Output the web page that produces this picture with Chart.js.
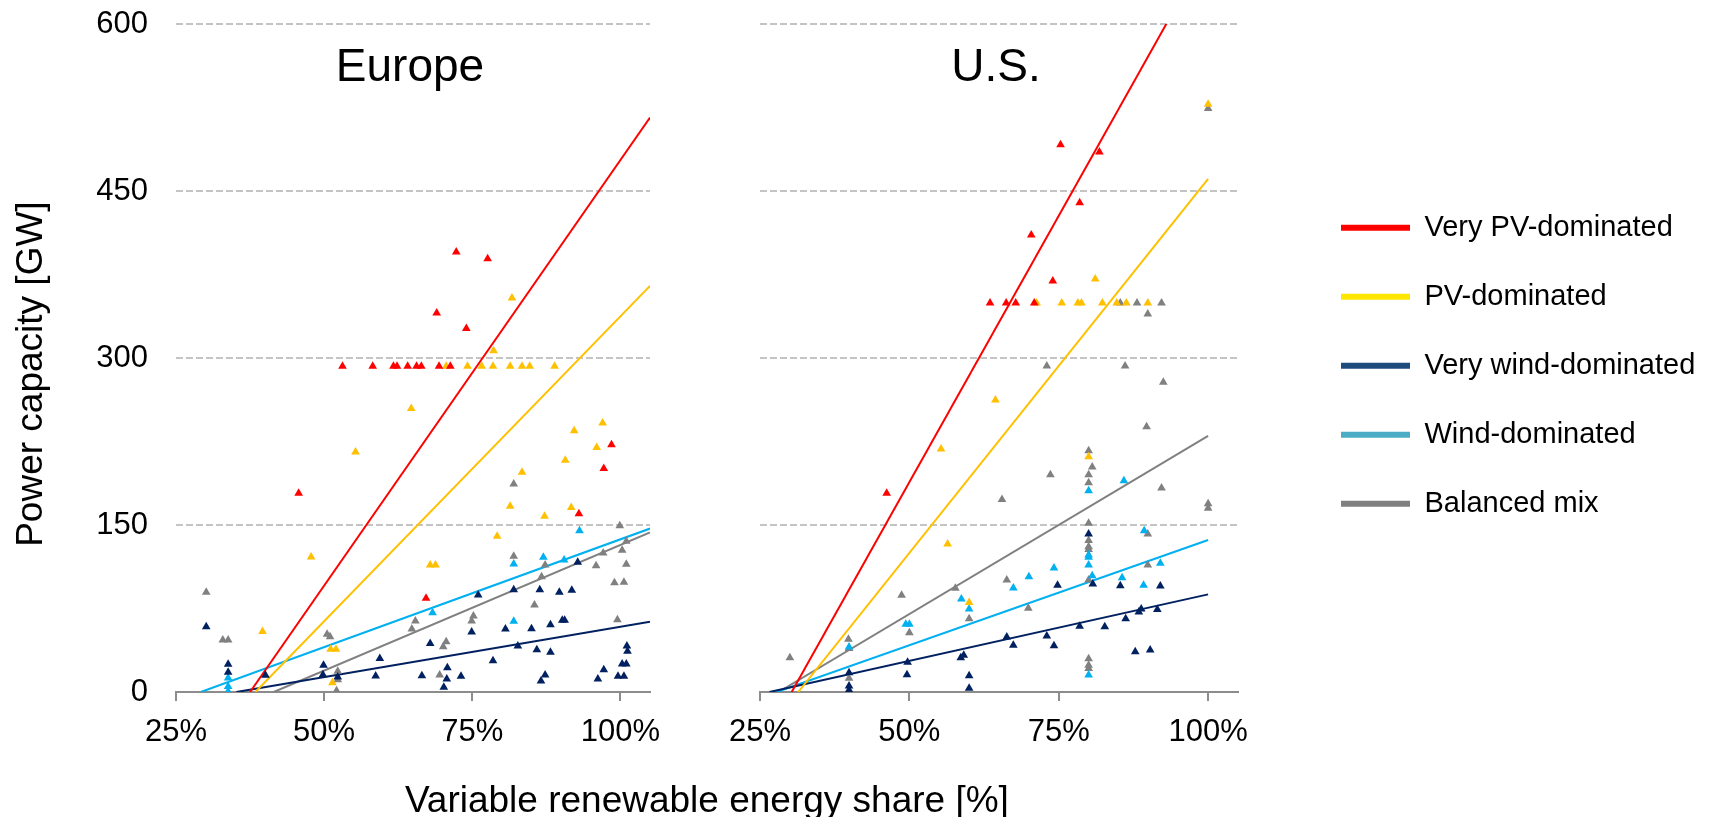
<!DOCTYPE html>
<html>
<head>
<meta charset="utf-8">
<script src="https://cdn.jsdelivr.net/npm/chart.js@4.4.1/dist/chart.umd.min.js"></script>
<style>
  html, body { margin: 0; padding: 0; background: #ffffff; }
  #wrap { position: relative; width: 1722px; height: 817px; overflow: hidden; }
  canvas { position: absolute; left: 0; top: 0; }
</style>
</head>
<body>
<div id="wrap">
  <canvas id="cTitles" width="1722" height="817"></canvas>
  <canvas id="cEurope" width="700" height="817"></canvas>
  <canvas id="cUS" width="1722" height="817"></canvas>
</div>
<script>
// ---------------- DATA (x = variable renewable share [%], y = power capacity [GW]) ----------------
const categories = ['Very PV-dominated', 'PV-dominated', 'Very wind-dominated', 'Wind-dominated', 'Balanced mix'];
const xTickValues = [25, 50, 75, 100];
const yTickValues = [0, 150, 300, 450, 600];

// Europe scenarios
const euVeryPV = [[45.7,178.5],[53.1,292.5],[58.2,292.5],[61.7,292.5],[62.3,292.5],[64.1,292.5],[65.6,292.5],[66.4,292.5],[69.4,292.5],[71.3,292.5],[69.0,340.5],[72.3,395.3],[74.0,326.5],[77.6,389.2],[67.2,84.2],[93.0,160.0],[97.2,200.7],[98.5,222.0]];
const euPV = [[39.6,54.3],[47.8,121.3],[51.1,38.5],[52.0,38.5],[51.4,8.2],[55.3,215.5],[64.7,254.6],[67.9,114.1],[68.8,114.1],[70.6,292.5],[74.2,292.5],[76.6,292.5],[78.5,292.5],[81.4,292.5],[83.4,292.5],[84.7,292.5],[88.9,292.5],[78.6,306.5],[81.7,353.8],[79.2,140.0],[81.4,166.8],[83.4,197.4],[87.2,157.8],[90.7,208.1],[91.7,165.8],[92.2,234.6],[96.0,219.5],[97.0,241.7]];
const euVeryWind = [[30.1,58.7],[33.8,24.9],[33.8,17.7],[40.1,15.0],[49.8,15.6],[49.9,24.0],[52.3,13.5],[58.7,14.4],[59.4,30.0],[66.5,14.6],[67.9,43.5],[70.2,4.2],[70.7,11.7],[70.8,21.8],[73.1,14.2],[74.9,53.9],[76.0,87.1],[78.5,28.0],[80.6,56.6],[82.0,91.9],[82.7,41.3],[85.0,56.9],[85.9,38.0],[86.4,91.9],[86.6,9.9],[87.3,15.3],[88.2,60.5],[88.2,35.7],[89.7,89.5],[90.2,64.4],[90.6,64.4],[91.8,91.3],[92.8,116.5],[96.2,11.7],[97.2,20.0],[99.6,14.1],[100.6,14.1],[100.3,25.2],[101.0,25.2],[101.1,41.3],[101.2,36.6]];
const euWind = [[33.8,12.5],[33.8,5.0],[33.8,0.5],[68.3,71.2],[82.0,115.0],[82.0,63.5],[87.0,121.0],[90.5,118.6],[93.1,144.9]];
const euBalanced = [[30.1,89.5],[32.9,46.7],[33.8,46.7],[50.5,51.8],[51.0,49.7],[52.1,1.2],[52.3,18.6],[52.3,11.0],[64.8,56.6],[65.4,63.8],[69.5,15.3],[70.1,40.7],[70.6,45.2],[74.9,63.8],[75.2,68.3],[82.0,186.8],[82.0,121.9],[85.5,78.1],[86.7,103.6],[87.3,114.1],[95.9,113.5],[97.1,124.9],[99.0,98.2],[99.5,64.9],[99.9,149.4],[100.3,127.3],[100.6,98.5],[101.0,135.4],[101.0,114.7]];

// Europe trend lines (start, end)
const euLineVeryPV = [[37.5,0],[105,516]];
const euLinePV = [[38.4,0],[105,364.8]];
const euLineVeryWind = [[35.2,0],[105,63.2]];
const euLineWind = [[29.2,0],[105,146.8]];
const euLineBalanced = [[41.5,0],[105,143.3]];

// U.S. scenarios
const usVeryPV = [[46.2,178.5],[63.5,349.5],[66.2,349.5],[67.8,349.5],[70.4,410.5],[70.9,349.5],[74.0,369.2],[75.3,491.6],[78.5,439.5],[81.8,485.0]];
const usPV = [[55.3,218.3],[56.4,133.0],[60.0,80.5],[64.4,262.3],[71.3,349.5],[75.5,349.5],[78.2,349.5],[78.8,349.5],[80.0,211.4],[81.1,371.0],[82.3,349.5],[84.7,349.5],[86.3,349.5],[89.9,349.5],[100.0,528.0]];
const usVeryWind = [[39.9,17.4],[39.9,5.4],[39.9,1.8],[49.6,15.6],[49.7,26.7],[58.6,30.8],[59.1,32.9],[60.0,14.7],[60.0,3.3],[66.3,49.4],[67.4,41.9],[73.0,50.3],[74.2,41.6],[74.8,95.8],[78.5,59.0],[80.0,141.9],[80.7,97.0],[82.7,58.7],[85.3,95.5],[86.2,65.8],[87.8,36.2],[88.4,71.9],[88.8,74.6],[90.3,37.7],[91.5,74.0],[92.0,95.2]];
const usWind = [[39.9,40.4],[49.4,60.8],[50.0,60.8],[58.7,83.5],[60.0,74.5],[67.4,93.4],[70.0,103.6],[74.2,111.4],[80.0,180.8],[80.0,123.0],[80.0,121.0],[80.0,114.1],[80.0,15.3],[80.6,104.5],[85.6,102.7],[85.9,189.8],[89.2,95.8],[89.3,144.9],[92.0,115.6]];
const usBalanced = [[30.0,30.8],[39.8,47.3],[39.9,39.0],[39.9,12.3],[48.7,86.8],[50.0,53.3],[57.7,93.1],[60.0,65.8],[65.5,173.0],[66.3,100.6],[69.9,75.2],[73.0,292.8],[73.6,195.2],[80.0,216.7],[80.6,202.1],[80.0,195.2],[80.0,188.0],[80.0,151.5],[80.0,136.0],[80.0,130.5],[80.0,128.0],[80.0,100.6],[80.0,29.9],[80.0,24.0],[80.0,21.0],[85.3,349.5],[86.1,292.8],[88.1,349.5],[89.7,238.3],[89.9,339.5],[89.9,141.9],[89.9,114.1],[92.2,349.5],[92.2,183.2],[92.5,278.2],[100.0,524.0],[100.0,169.0],[100.0,165.0]];

// U.S. trend lines (start, end)
const usLineVeryPV = [[30.3,0],[100,667]];
const usLinePV = [[31.4,0],[100,460.8]];
const usLineVeryWind = [[26.6,0],[100,87.7]];
const usLineWind = [[27.8,0],[100,136.5]];
const usLineBalanced = [[28.1,0],[100,230]];

// ---------------- STYLE ----------------
const FONT = '"Liberation Sans", Arial, Helvetica, sans-serif';
const plotColors = ['#FF0000', '#FFC000', '#002060', '#00B0F0', '#808080'];
const legendColors = ['#FF0000', '#FFE600', '#1F4A7C', '#4BACC6', '#808080'];
const axisGrey = '#8C8C8C';
const gridGrey = '#C4C4C4';
const clear = 'rgba(0,0,0,0)';

Chart.defaults.font.family = FONT;
Chart.defaults.color = '#000000';
Chart.defaults.animation = false;

const toXY = arr => arr.map(p => ({x: p[0], y: p[1]}));

function buildDatasets(points, lines) {
  const ds = [];
  points.forEach((pts, i) => ds.push({
    label: categories[i],
    data: toXY(pts),
    showLine: false,
    pointStyle: 'triangle',
    pointRadius: 5,
    pointHoverRadius: 5,
    pointBorderWidth: 0,
    backgroundColor: plotColors[i],
    borderColor: plotColors[i]
  }));
  lines.forEach((ln, i) => ds.push({
    label: categories[i] + ' trend',
    data: toXY(ln),
    showLine: true,
    pointRadius: 0,
    pointHoverRadius: 0,
    borderWidth: 2,
    borderColor: plotColors[i],
    backgroundColor: plotColors[i],
    fill: false
  }));
  return ds;
}

const panelLabel = {
  id: 'panelLabel',
  afterDatasetsDraw(chart, args, opts) {
    const {ctx, chartArea} = chart;
    ctx.save();
    ctx.font = '46px ' + FONT;
    ctx.fillStyle = '#000000';
    ctx.textAlign = 'center';
    ctx.textBaseline = 'middle';
    ctx.fillText(opts.text, (chartArea.left + chartArea.right) / 2 - 3, chartArea.top + 44);
    ctx.restore();
  }
};

function xScale() {
  return {
    type: 'linear',
    min: 25, max: 105,
    afterBuildTicks: s => { s.ticks = xTickValues.map(v => ({value: v})); },
    afterFit: s => { s.height = 125; },
    ticks: {
      autoSkip: false, maxRotation: 0, padding: 13,
      font: {size: 31}, color: '#000000',
      callback: v => v + '%'
    },
    grid: {
      display: true, drawOnChartArea: false, drawTicks: true,
      tickLength: 9, color: axisGrey, lineWidth: 2
    },
    border: {display: true, color: axisGrey, width: 2}
  };
}

function yScale(width, showLabels) {
  return {
    type: 'linear',
    min: 0, max: 600,
    afterBuildTicks: s => { s.ticks = yTickValues.map(v => ({value: v})); },
    afterFit: s => { s.width = width; },
    ticks: {
      display: showLabels, padding: 0,
      font: {size: 31}, color: '#000000'
    },
    grid: {
      display: true, drawTicks: true, tickLength: 28, tickColor: clear, lineWidth: 2,
      color: c => (c.tick && c.tick.value === 0) ? clear : gridGrey
    },
    border: {display: false, dash: [7, 3]}
  };
}

// ---------------- EUROPE ----------------
new Chart(document.getElementById('cEurope'), {
  type: 'scatter',
  data: {datasets: buildDatasets(
    [euVeryPV, euPV, euVeryWind, euWind, euBalanced],
    [euLineVeryPV, euLinePV, euLineVeryWind, euLineWind, euLineBalanced])},
  options: {
    responsive: false, devicePixelRatio: 1, animation: false,
    layout: {padding: {top: 24, right: 50, bottom: 0, left: 0}},
    scales: {x: xScale(), y: yScale(176, true)},
    plugins: {
      legend: {display: false},
      tooltip: {enabled: false},
      panelLabel: {text: 'Europe'}
    }
  },
  plugins: [panelLabel]
});

// ---------------- U.S. (with legend) ----------------
new Chart(document.getElementById('cUS'), {
  type: 'scatter',
  data: {datasets: buildDatasets(
    [usVeryPV, usPV, usVeryWind, usWind, usBalanced],
    [usLineVeryPV, usLinePV, usLineVeryWind, usLineWind, usLineBalanced])},
  options: {
    responsive: false, devicePixelRatio: 1, animation: false,
    layout: {padding: {top: 24, right: 21, bottom: 0, left: 0}},
    scales: {
      x: xScale(),
      y: yScale(760, false),
      spacer: {
        type: 'linear', position: 'right', display: true,
        afterFit: s => { s.width = 63; },
        ticks: {display: false},
        grid: {display: false},
        border: {display: false}
      }
    },
    plugins: {
      tooltip: {enabled: false},
      panelLabel: {text: 'U.S.'},
      legend: {
        display: true, position: 'right', align: 'center', fullSize: false, maxWidth: 400,
        title: {display: true, text: '', font: {size: 10, lineHeight: 1.2}, padding: 1.7},
        labels: {
          boxWidth: 69, boxHeight: 6, padding: 40,
          font: {size: 29}, color: '#000000',
          generateLabels: () => categories.map((t, i) => ({
            text: t, fillStyle: legendColors[i], strokeStyle: legendColors[i],
            lineWidth: 0, hidden: false, datasetIndex: i, fontColor: '#000000'
          }))
        }
      }
    }
  },
  plugins: [panelLabel]
});

// ---------------- SHARED AXIS TITLES ----------------
new Chart(document.getElementById('cTitles'), {
  type: 'scatter',
  data: {datasets: []},
  options: {
    responsive: false, devicePixelRatio: 1, animation: false,
    layout: {padding: {top: 0, right: 355, bottom: 0, left: 0}},
    scales: {x: {display: false}, y: {display: false}},
    plugins: {
      legend: {display: false},
      tooltip: {enabled: false},
      title: {
        display: true, text: 'Variable renewable energy share [%]',
        position: 'bottom', fullSize: false, color: '#000000',
        font: {size: 37, weight: 'normal', lineHeight: 0.8},
        padding: {top: 39.2, bottom: 0}
      },
      subtitle: {
        display: true, text: 'Power capacity [GW]',
        position: 'left', fullSize: false, color: '#000000',
        font: {size: 37, weight: 'normal', lineHeight: 0.8},
        padding: {top: 17.2, bottom: 0}
      }
    }
  }
});
</script>
</body>
</html>
